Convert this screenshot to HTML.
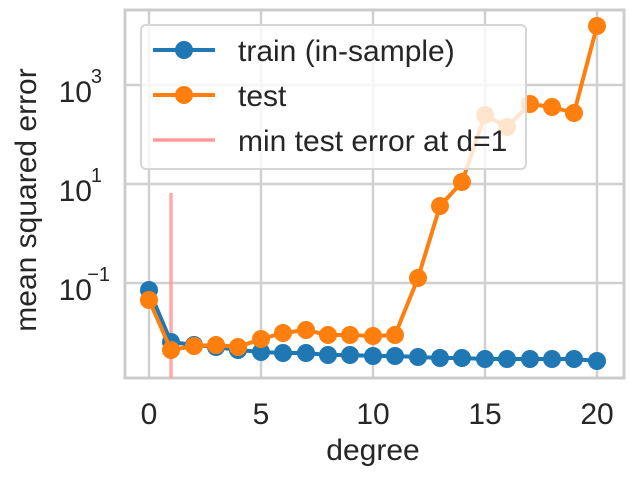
<!DOCTYPE html>
<html><head><style>
html,body{margin:0;padding:0;background:#fff;}
text{font-family:"Liberation Sans","DejaVu Sans",sans-serif;fill:#262626;}
</style></head><body>
<svg width="631" height="476" viewBox="0 0 631 476" xmlns="http://www.w3.org/2000/svg">
<rect width="631" height="476" fill="#fff"/>
<g stroke="#d0d0d0" stroke-width="2.5">
<line x1="149" y1="10" x2="149" y2="378"/>
<line x1="261" y1="10" x2="261" y2="378"/>
<line x1="373" y1="10" x2="373" y2="378"/>
<line x1="485" y1="10" x2="485" y2="378"/>
<line x1="597" y1="10" x2="597" y2="378"/>
<line x1="125" y1="283" x2="624" y2="283"/>
<line x1="125" y1="184" x2="624" y2="184"/>
<line x1="125" y1="85" x2="624" y2="85"/>
</g>
<rect x="125" y="10" width="499" height="368" fill="none" stroke="#cccccc" stroke-width="3"/>
<line x1="171" y1="193" x2="171" y2="378" stroke="#ff9a9a" stroke-width="3.5" opacity="0.85"/>
<polyline fill="none" stroke="#1f77b4" stroke-width="4" stroke-linejoin="round" points="149,290 171,342 194,345 216,347 238,350 261,352 283,353 306,353 328,355 350,355 373,356 395,356 418,357 440,358 462,358 485,359 507,359 530,359 552,359 574,359 597,361"/>
<g fill="#1f77b4">
<circle cx="149" cy="290" r="9"/><circle cx="171" cy="342" r="9"/><circle cx="194" cy="345" r="9"/><circle cx="216" cy="347" r="9"/><circle cx="238" cy="350" r="9"/><circle cx="261" cy="352" r="9"/><circle cx="283" cy="353" r="9"/><circle cx="306" cy="353" r="9"/><circle cx="328" cy="355" r="9"/><circle cx="350" cy="355" r="9"/><circle cx="373" cy="356" r="9"/><circle cx="395" cy="356" r="9"/><circle cx="418" cy="357" r="9"/><circle cx="440" cy="358" r="9"/><circle cx="462" cy="358" r="9"/><circle cx="485" cy="359" r="9"/><circle cx="507" cy="359" r="9"/><circle cx="530" cy="359" r="9"/><circle cx="552" cy="359" r="9"/><circle cx="574" cy="359" r="9"/><circle cx="597" cy="361" r="9"/>
</g>
<polyline fill="none" stroke="#ff7f0e" stroke-width="4" stroke-linejoin="round" points="149,300 171,350 194,346 216,345 238,347 261,339 283,333 306,330 328,335 350,335 373,336 395,335 418,278 440,206 462,182 485,115 507,127 530,104 552,107 574,113 597,26"/>
<g fill="#ff7f0e">
<circle cx="149" cy="300" r="9"/><circle cx="171" cy="350" r="9"/><circle cx="194" cy="346" r="9"/><circle cx="216" cy="345" r="9"/><circle cx="238" cy="347" r="9"/><circle cx="261" cy="339" r="9"/><circle cx="283" cy="333" r="9"/><circle cx="306" cy="330" r="9"/><circle cx="328" cy="335" r="9"/><circle cx="350" cy="335" r="9"/><circle cx="373" cy="336" r="9"/><circle cx="395" cy="335" r="9"/><circle cx="418" cy="278" r="9"/><circle cx="440" cy="206" r="9"/><circle cx="462" cy="182" r="9"/><circle cx="485" cy="115" r="9"/><circle cx="507" cy="127" r="9"/><circle cx="530" cy="104" r="9"/><circle cx="552" cy="107" r="9"/><circle cx="574" cy="113" r="9"/><circle cx="597" cy="26" r="9"/>
</g>
<rect x="141" y="25" width="385" height="144" rx="5" fill="#fff" fill-opacity="0.8" stroke="#d6d6d6" stroke-width="2"/>
<line x1="153" y1="50" x2="215" y2="50" stroke="#1f77b4" stroke-width="4"/>
<circle cx="184" cy="50" r="9" fill="#1f77b4"/>
<line x1="153" y1="95" x2="215" y2="95" stroke="#ff7f0e" stroke-width="4"/>
<circle cx="184" cy="95" r="9" fill="#ff7f0e"/>
<line x1="153" y1="140" x2="215" y2="140" stroke="#ff9a9a" stroke-width="3.5"/>
<g font-size="30">
<text x="238" y="61">train (in-sample)</text>
<text x="238" y="106">test</text>
<text x="238" y="151">min test error at d=1</text>
</g>
<g font-size="30" text-anchor="middle">
<text x="149" y="424">0</text><text x="261" y="424">5</text><text x="373" y="424">10</text><text x="485" y="424">15</text><text x="597" y="424">20</text>
<text x="373" y="460">degree</text>
</g>
<g font-size="30" text-anchor="end">
<text x="92" y="300">10</text><text x="110" y="281" font-size="20">−1</text>
<text x="92" y="201">10</text><text x="102" y="182" font-size="20">1</text>
<text x="92" y="102">10</text><text x="102" y="83" font-size="20">3</text>
</g>
<text transform="translate(36,200) rotate(-90)" font-size="30" text-anchor="middle">mean squared error</text>
</svg>
</body></html>
